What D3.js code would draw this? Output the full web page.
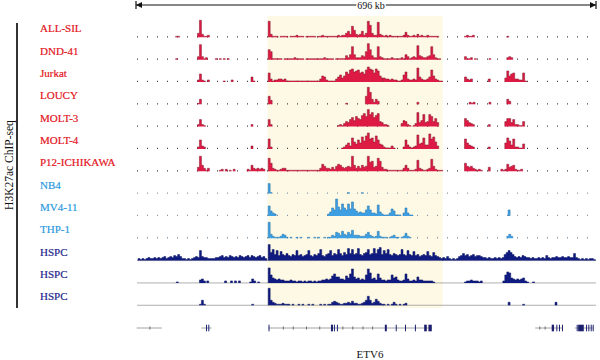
<!DOCTYPE html>
<html><head><meta charset="utf-8">
<script src="https://cdn.jsdelivr.net/npm/d3@7"></script>
<style>body{margin:0;background:#fff}svg{display:block}text{font-family:"Liberation Serif","Times New Roman",serif}</style>
</head><body><svg id="c" width="600" height="360"></svg>
<script>
// ---------------- DATA ----------------
const trackNames = ["ALL-SIL","DND-41","Jurkat","LOUCY","MOLT-3","MOLT-4","P12-ICHIKAWA","NB4","MV4-11","THP-1","HSPC","HSPC","HSPC"];
const trackGroup = ["T","T","T","T","T","T","T","M","M","M","H","H","H"];
const yAxisLabel = "H3K27ac ChIP-seq";
const windowKb = 696;
const binKb = 3;
const scaleLabel = "696 kb";
const highlightKb = [199, 464];
// signal: [start kb, code per 3-kb bin]; code '0'=0, 'a'=1 ... 'r'=18
const sigALLSIL = [[60,"aa"],[93,"dqcaab"],[200,"pc"],[206,"aaa0aaaa0aaabaaa0aaaaa0aa"],[281,"baaaaaaa"],[305,"babbdfckgcbcfbdpldbbocbababa"],[389,"aaaaab"],[407,"ebaabacabaabaaaaa"],[497,"abaab"],[561,"a"]];
const sigDND41 = [[60,"a"],[93,"cocab"],[120,"a0a0a0a"],[200,"jh"],[206,"aaaaa0aaaaabaaaa0aaaaaaaaabaaaa0aaaaa"],[317,"dbemebbbdchpjdbbmcb"],[374,"aaaabaaaaba"],[407,"ecabcbndcbbcdmebaa"],[497,"caab0a"],[534,"a"],[561,"bcb"]];
const sigJurkat = [[93,"bhba"],[108,"b"],[132,"a"],[144,"b"],[174,"ea"],[200,"icabbccbca"],[230,"aaaaaaaaaaaaaaaa"],[278,"cfebaaaa"],[302,"cegdfjhlmjklijhlomlimkfd"],[374,"dccbcbbaabgjcbbcbnecbbcelfcbaa"],[497,"ecbc"],[533,"c"],[558,"dkfhiccbbia"]];
const sigLOUCY = [[93,"ae"],[200,"hd"],[317,"a"],[347,"hqlebec"],[425,"b"],[504,"bab"],[534,"b"],[561,"ec"]];
const sigMOLT3 = [[93,"bgba"],[174,"b"],[200,"gb"],[305,"abacedgifjhgkmjqlnikmedbba"],[401,"cfeba0acndfldeljehd"],[497,"hfdcb"],[533,"b"],[558,"ehhdgbbaae"]];
const sigMOLT4 = [[93,"bicb"],[174,"c"],[200,"jb"],[311,"abdfckgeiflhmpjkgmiedbaaaca"],[404,"bidbabcnefkddojlgc"],[497,"jfdcb"],[533,"b"],[558,"fkhdjbbaae"]];
const sigP12 = [[93,"dofcac"],[126,"ab0b"],[141,"a0b"],[168,"bafcbcbcb"],[200,"mhcbaabcca"],[230,"aaaaaaaaaaaaaaaa"],[278,"cgeccbdbegfdcdedofcecfdeoijdemjdbb"],[380,"aaaaaaaa"],[404,"cfcaaabkcbaabclebaaa"],[497,"hedecb"],[515,"aba"],[533,"d"],[552,"bab"],[561,"gdefbaab"]];
const sigNB4 = [[200,"ja"],[320,"a"],[341,"a"]];
const sigMV411 = [[200,"jecb"],[290,"bdhfqiflhflgngecdccfjfccbkdbaaacgea"],[395,"aa0chcaa"],[563,"f"]];
const sigTHP1 = [[200,"pdbaaabdca"],[230,"0a00a0a000a00a0a00a0a"],[293,"acbfecgdcfdhcccbbbdfcbabgba"],[374,"aa0abca"],[395,"a0abeba"],[561,"bdb"]];
const sigHSPC1 = [[3,"bababcbbcbcbcdbcdcedfdbbababcdcjdccbbbbccdecdcedcdcedcdecedcdecdb"],
  [200,"phkfjeifeg"+"edfejefdef"+"jedfegkedf"+"gjegfkgehf"+"lgkfglfegh"+"kfglgkmfjg"+"kfegfefkfe"+"jfeiefdefe"+"iedhedcb"],
  [464,"cbdbababde"+"gefdefdeed"+"ccbcbbcbcb"+"cfhjhfdcdc"+"edccbcbbcb"+"cbecbccdcc"+"dccdccgcba"+"bababba"]];
const sigHSPC2 = [[61,"a"],[96,"cdb"],[107,"b"],[134,"b00b0b0b"],[172,"adb"],[184,"a"],
  [200,"ohedcdccbb"+"bcbbabbaba"+"bbababbccd"+"cdgiffddcg"+"einfdecdch"+"njdecieccb"+"cchefcbbci"+"dbbcbfccbb"+"bbba"],
  [497,"abbcbbbab"],[555,"bhkjedcdcdeba"],[600,"a"]];
const sigHSPC3 = [[96,"aea"],[175,"a"],[200,"qecbaaabaa"],[230,"a0a00a0a00a0a000a0a0a"],[293,"acdcbaabbcbdbbaabceiebcfdba"],[374,"a0a0a"],[389,"ca0a0ab"],[563,"c"],[585,"a"],[634,"c"]];
const signals = [sigALLSIL,sigDND41,sigJurkat,sigLOUCY,sigMOLT3,sigMOLT4,sigP12,sigNB4,sigMV411,sigTHP1,sigHSPC1,sigHSPC2,sigHSPC3];

// genes: intron lines [startKb, endKb]; exons [kb, widthKb]; direction ticks [kb]
const geneLines = [[1,39],[99,114.5],[200,447.5],[604,646],[664,691.5]];
const geneExons = [[106,1.2],[109.4,1.2],[200.5,1],[295,3],[299.5,1],[304,1],[376.5,3],[393,1],[407,1],[422,1],[436,4],[442.5,5],
  [629,3.5],[636,1],[640,1],[644.5,1],[666.8,1],[669,8.5],[681,1],[684.4,1],[688,1],[691,1]];
const geneTicks = [21,223,238,258,278,313,328,343.5,358,611,619];
const geneName = "ETV6";
const geneNameKb = 354;

// ---------------- DRAW ----------------
const svg = d3.select("#c");
const x = d3.scaleLinear().domain([0, windowKb]).range([136, 596]);
const pal = {
  T: {label:"#e3141c", fill:"#dd1a44", stroke:"#84162c", dots:"#444"},
  M: {label:"#2b9ae0", fill:"#3d9fe2", stroke:"#2670ab", dots:"#8398a8"},
  H: {label:"#1b1f8a", fill:"#0f1b80", stroke:"#0a1262", dots:"#9a9a9a"}
};
const codeVal = c => c === "0" ? 0 : c.charCodeAt(0) - 96;

// highlight
svg.append("rect").attr("x", x(highlightKb[0])).attr("y", 16)
  .attr("width", x(highlightKb[1]) - x(highlightKb[0])).attr("height", 292)
  .attr("fill", "#fdf9e4");

// scale bar
const sbY = 5;
const sbText = svg.append("text").attr("x", x(windowKb/2) + 5).attr("y", 8.5)
  .attr("text-anchor","middle").attr("font-size", 10).attr("fill","#111").text(scaleLabel);
const bb = sbText.node().getBBox();
svg.append("line").attr("x1", x(0)).attr("x2", bb.x - 1).attr("y1", sbY).attr("y2", sbY).attr("stroke","#111").attr("stroke-width",1.2);
svg.append("line").attr("x1", bb.x + bb.width + 1).attr("x2", x(windowKb)).attr("y1", sbY).attr("y2", sbY).attr("stroke","#111").attr("stroke-width",1.2);
[0, windowKb].forEach((k, i) => {
  const xx = x(k), dir = i === 0 ? 1 : -1;
  svg.append("line").attr("x1", xx).attr("x2", xx).attr("y1", 1).attr("y2", 9).attr("stroke","#111").attr("stroke-width",1.2);
  svg.append("path").attr("d", `M${xx},${sbY}L${xx + dir*6},${sbY-3}L${xx + dir*6},${sbY+3}Z`).attr("fill","#111");
});

// left bracket + label
svg.append("line").attr("x1",17).attr("x2",17).attr("y1",23).attr("y2",308).attr("stroke","#333").attr("stroke-width",2);
svg.append("text").attr("transform","translate(12.5,165) rotate(-90)").attr("text-anchor","middle")
  .attr("font-size",11.5).attr("fill","#111").text(yAxisLabel);

// tracks
trackNames.forEach((name, i) => {
  const base = 37.3 + i * 22.33;
  const y = d3.scaleLinear().domain([0, 18]).range([base, base - 18]);
  const p = pal[trackGroup[i]];
  if (trackGroup[i] === "H") {
    svg.append("line").attr("x1", x(0) + 1).attr("x2", x(windowKb)).attr("y1", base).attr("y2", base)
      .attr("stroke", p.dots).attr("stroke-width", 0.8);
  } else {
    svg.append("line").attr("x1", x(0) + 1).attr("x2", x(windowKb)).attr("y1", base - 0.5).attr("y2", base - 0.5)
      .attr("stroke", p.dots).attr("stroke-width", 1.3).attr("stroke-dasharray", "1,9");
  }
  svg.append("text").attr("x", 40).attr("y", base - 5).attr("font-size", 11).attr("fill", p.label)
    .attr("stroke", p.label).attr("stroke-width", 0.2).text(name);

  const area = d3.area().x(d => x(d.k)).y0(base).y1(d => y(d.v)).curve(d3.curveStepAfter);
  const line = d3.line().x(d => x(d.k)).y(d => y(d.v)).curve(d3.curveStepAfter);
  signals[i].forEach(([start, code]) => {
    const vals = code.split("").map(codeVal);
    let run = [];
    const flush = (endK) => {
      if (!run.length) return;
      const last = run[run.length - 1].v;
      const pts = [{k: run[0].k, v: 0}, ...run, {k: endK, v: last}, {k: endK, v: 0}];
      svg.append("path").attr("d", area(pts)).attr("fill", p.fill);
      svg.append("path").attr("d", line(pts)).attr("fill", "none").attr("stroke", p.stroke).attr("stroke-width", 0.5);
      run = [];
    };
    vals.forEach((v, j) => {
      const k = start + binKb * j;
      if (v > 0) run.push({k, v}); else flush(k);
    });
    flush(start + binKb * vals.length);
  });
});

// gene track
const gY = 328;
geneLines.forEach(([a, b]) => svg.append("line").attr("x1", x(a)).attr("x2", x(b)).attr("y1", gY).attr("y2", gY)
  .attr("stroke", "#8a8a8a").attr("stroke-width", 0.8));
geneTicks.forEach(k => svg.append("line").attr("x1", x(k)).attr("x2", x(k)).attr("y1", gY - 1.6).attr("y2", gY + 1.6)
  .attr("stroke", "#555").attr("stroke-width", 0.8));
geneExons.forEach(([k, w]) => svg.append("rect").attr("x", x(k)).attr("y", gY - 3.3)
  .attr("width", Math.max(1, x(k + w) - x(k))).attr("height", 6.6).attr("fill", "#1c1f6e"));
svg.append("text").attr("x", x(geneNameKb)).attr("y", 358).attr("text-anchor", "middle")
  .attr("font-size", 11).attr("fill", "#111").text(geneName);
</script></body></html>
